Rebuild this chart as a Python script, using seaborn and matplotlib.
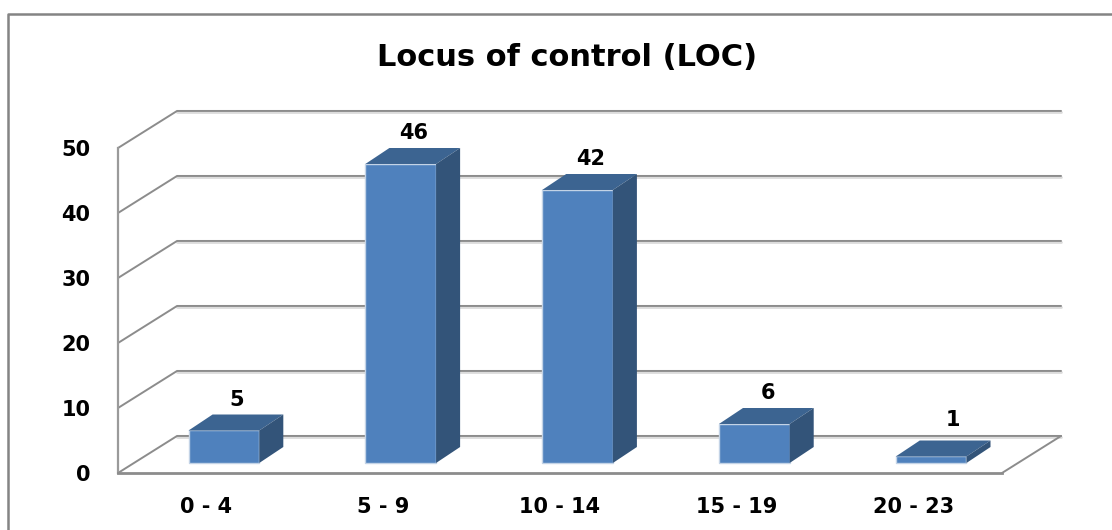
import numpy as np
import pandas as pd
import seaborn as sns
import matplotlib.pyplot as plt
from matplotlib.lines import Line2D
from matplotlib.transforms import Affine2D

sns.set_theme(style="white")
plt.rcParams['font.family'] = ['DejaVu Sans']

categories = ['0 - 4', '5 - 9', '10 - 14', '15 - 19', '20 - 23']
counts = [5, 46, 42, 6, 1]
y_ticks = [0, 10, 20, 30, 40, 50]
title = 'Locus of control (LOC)'

# 3d look, in data units of the front plane
wall_dx, wall_dy = 0.334, 5.7
bar_shift_x, bar_shift_y = 0.099, 1.54
bar_dx, bar_dy = 0.136, 2.46

col_front = '#4f81bd'
col_top = '#3c6491'
col_side = '#335479'
col_grid = '#8c8c8c'
col_shadow = '#dcdcdc'

df = pd.DataFrame({'range': categories, 'count': counts})

fig = plt.figure(figsize=(11.12, 5.30), dpi=100, facecolor='white')
ax = fig.add_axes([118/1112, (530-473)/530, 884/1112, 325/530])

sns.barplot(data=df, x='range', y='count', color=col_front, saturation=1,
            width=0.4, ax=ax, zorder=3, edgecolor='#c3d3e6', linewidth=1)
ax.set_xlim(-0.5, 4.5)
ax.set_ylim(0, 50)
ax.patch.set_alpha(0)
ax.set_xlabel('')
ax.set_ylabel('')

# back wall lines
x0, x1 = -0.5, 4.5
for v in y_ticks:
    xs = [x0, x0 + wall_dx, x1 + wall_dx]
    ys = [v, v + wall_dy, v + wall_dy]
    ax.plot(xs[1:], [y - 0.2 for y in ys[1:]], color=col_shadow, lw=2, clip_on=False, zorder=1)
    ax.plot(xs, ys, color=col_grid, lw=1.4, clip_on=False, zorder=1.5)
ax.plot([x1, x1 + wall_dx], [0, wall_dy], color=col_grid, lw=1.4, clip_on=False, zorder=1.5)

# lift the bars onto the floor and add top + side faces
shift = Affine2D().translate(bar_shift_x, bar_shift_y) + ax.transData
for p, n in zip(ax.patches, counts):
    p.set_transform(Affine2D().translate(bar_shift_x, bar_shift_y) + ax.transData)
    p.set_clip_on(False)
    l, r, h = p.get_x(), p.get_x() + p.get_width(), p.get_height()
    ax.fill([l, r, r + bar_dx, l + bar_dx], [h, h, h + bar_dy, h + bar_dy],
            color=col_top, lw=0, transform=shift, clip_on=False, zorder=3.1)
    ax.fill([r, r + bar_dx, r + bar_dx, r], [0, bar_dy, h + bar_dy, h],
            color=col_side, lw=0, transform=shift, clip_on=False, zorder=3.1)
    # the small bar's label sits further out in the original
    nudge_x, nudge_y = (0.05, 0.8) if n == 1 else (0, 0)
    ax.text((l + r) / 2 + 0.075 + nudge_x, h + bar_dy + 2.3 + nudge_y, str(n), transform=shift,
            ha='center', va='center', fontsize=15, fontweight='bold', color='black',
            clip_on=False, zorder=4)

ax.set_yticks(y_ticks)
ax.tick_params(axis='both', length=0, labelsize=15, colors='black')
ax.tick_params(axis='y', pad=20)
ax.tick_params(axis='x', pad=17)
for t in ax.get_xticklabels() + ax.get_yticklabels():
    t.set_fontweight('bold')

sns.despine(ax=ax)
ax.spines['left'].set_color('#9a9a9a')
ax.spines['left'].set_linewidth(1.6)
ax.spines['bottom'].set_color('#8c8c8c')
ax.spines['bottom'].set_linewidth(2)

fig.text(567/1112, 1 - 58/530, title, ha='center', va='center', fontsize=22,
         fontweight='bold', color='black')

# chart frame, only top and left show in the crop
fig.add_artist(Line2D([8/1112, 8/1112, 1], [0, 1 - 14/530, 1 - 14/530], color='#848484', lw=1.8))

plt.savefig('out.png', dpi=100)
